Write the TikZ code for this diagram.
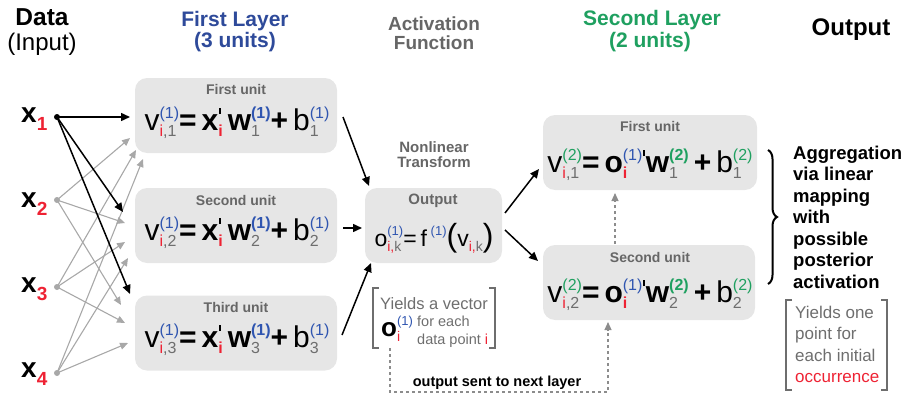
\documentclass[tikz,border=0pt]{standalone}
\usepackage{fontspec}
\setmainfont{Liberation Sans}
\usetikzlibrary{arrows.meta,decorations.pathreplacing}
\definecolor{hblue}{HTML}{2E4A9A}
\definecolor{sblue}{HTML}{2F55B0}
\definecolor{hgreen}{HTML}{1FA060}
\definecolor{xred}{HTML}{EE2233}
\definecolor{tgray}{HTML}{666666}
\definecolor{sgray}{HTML}{6E6E6E}
\definecolor{boxg}{HTML}{E6E6E6}
\definecolor{agray}{HTML}{A8A8A8}
\definecolor{dgray}{HTML}{8C8C8C}
\newcommand\ssz{\fontsize{16}{16}\selectfont}
\newcommand\SupSub[2]{%
 \setbox0=\hbox{\ssz{#1}}\setbox2=\hbox{\ssz{#2}}%
 \ifdim\wd0>\wd2 \dimen0=\wd0 \else \dimen0=\wd2 \fi
 \hbox to \dimen0{\rlap{\raise 12pt\box0}\lower 6pt\box2\hss}}
\newcommand\SmSupSub[2]{%
 \setbox0=\hbox{\fontsize{13}{13}\selectfont{#1}}\setbox2=\hbox{\fontsize{14}{14}\selectfont{#2}}%
 \ifdim\wd0>\wd2 \dimen0=\wd0 \else \dimen0=\wd2 \fi
 \hbox to \dimen0{\rlap{\raise 11pt\box0}\lower 5pt\box2\hss}}
\newcommand\Prm{\kern1pt\rule{1.4pt}{6.5pt}\kern1pt}
\newcommand\eqA[1]{v\SupSub{\color{sblue}(1)}{\color{xred}i\color{sgray},#1}\textbf{=\,x}\SupSub{\raisebox{4pt}{\Prm}}{\color{xred}\textbf{i}}\,\textbf{w}\SupSub{\color{sblue}\textbf{(1)}}{\color{sgray}#1}\textbf{+}\,b\SupSub{\color{sblue}(1)}{\color{sgray}#1}}
\newcommand\eqB[1]{v\SupSub{\color{hgreen}(2)}{\color{xred}i\color{sgray},#1}\textbf{=\,o}\SupSub{{\color{sblue}(1)}\raisebox{4pt}{\Prm}}{\color{xred}\textbf{i}}\textbf{w}\SupSub{\color{hgreen}\textbf{(2)}}{\color{sgray}#1}\,\textbf{+}\,b\SupSub{\color{hgreen}(2)}{\color{sgray}#1}}
\newcommand\xlab[1]{\textbf{x}\lower 8pt\hbox{\fontsize{19}{19}\selectfont\bfseries\color{xred}#1}}
\tikzset{
 ubox/.style={rounded corners=12pt, fill=boxg, draw=none, minimum width=202pt, minimum height=75pt, inner sep=0pt},
 utitle/.style={font=\fontsize{14}{14}\selectfont\bfseries, text=tgray, inner sep=0pt},
 eqn/.style={font=\fontsize{30}{32}\selectfont, anchor=base, inner sep=0pt},
 hdr/.style={font=\fontsize{21}{22}\selectfont\bfseries, inner sep=0pt},
 blk/.style={line width=1.5pt, -{Triangle[length=9pt,width=8pt]}},
 gry/.style={agray, line width=1.1pt, -{Triangle[length=8pt,width=7pt]}},
 note/.style={font=\fontsize{17}{18}\selectfont, text=sgray, inner sep=0pt, anchor=base west},
 brk/.style={line width=1.2pt, draw=sgray},
 agg/.style={font=\fontsize{18.5}{21.5}\selectfont\bfseries, inner sep=0pt, anchor=base west},
}
\begin{document}
\begin{tikzpicture}[x=1pt,y=-1pt]
\useasboundingbox (0,0) rectangle (907,396);
% headers
\node[hdr, font=\fontsize{24.5}{25}\selectfont\bfseries] (hdata) at (42,17) {Data};
\node[inner sep=0pt, font=\fontsize{24}{24}\selectfont] (hinput) at (42,44) {(Input)};
\node[hdr, text=hblue] (hfl) at (235,21) {First Layer};
\node[hdr, text=hblue] (hfl2) at (235,42) {(3 units)};
\node[hdr, text=tgray, font=\fontsize{19}{20}\selectfont\bfseries] (hact) at (434,24) {Activation};
\node[hdr, text=tgray, font=\fontsize{19}{20}\selectfont\bfseries] (hact2) at (434,43) {Function};
\node[hdr, text=hgreen] (hsl) at (652,20) {Second Layer};
\node[hdr, text=hgreen] (hsl2) at (650,42) {(2 units)};
\node[hdr, font=\fontsize{24}{24}\selectfont\bfseries] (hout) at (851,30) {Output};
% inputs
\foreach \i/\y/\b in {1/117/122, 2/200/207, 3/287/292, 4/373/377} {
  \node[inner sep=0pt, anchor=base west, font=\fontsize{28}{28}\selectfont] (xl\i) at (21,\b) {\xlab{\i}};
  \coordinate (in\i) at (57,\y);
}
% first layer boxes
\node[ubox] (u1) at (236,115.5) {};
\node[ubox] (u2) at (236,225.5) {};
\node[ubox] (u3) at (236,333) {};
\node[utitle] (t1) at (236,89) {First unit};
\node[utitle] (t2) at (236,200) {Second unit};
\node[utitle] (t3) at (236,307) {Third unit};
\node[eqn] (e1) at (237,130) {\eqA{1}};
\node[eqn] (e2) at (237,240) {\eqA{2}};
\node[eqn] (e3) at (237,347) {\eqA{3}};
% arrow end coordinates
\coordinate (a11) at (130,117); \coordinate (a12) at (123,212); \coordinate (a13) at (130,294);
\coordinate (a21) at (130,138); \coordinate (a22) at (125,223); \coordinate (a23) at (121,305);
\coordinate (a31) at (136,150); \coordinate (a32) at (125,242); \coordinate (a33) at (125,323);
\coordinate (a41) at (143,159); \coordinate (a42) at (128,258); \coordinate (a43) at (128,343);
\foreach \s in {2,3,4} {\foreach \t in {1,2,3} {\draw[gry] (in\s) -- (a\s\t);}}
\foreach \s in {2,3,4} {\fill[agray] (in\s) circle (3pt);}
\foreach \t in {1,2,3} {\draw[blk] (in1) -- (a1\t);}
\fill (in1) circle (3pt);
% activation
\node[utitle, font=\fontsize{15}{15}\selectfont\bfseries] (nl1) at (434,147) {Nonlinear};
\node[utitle, font=\fontsize{15}{15}\selectfont\bfseries] (nl2) at (434,162) {Transform};
\node[ubox, minimum width=137pt] (act) at (433.5,225.5) {};
\node[utitle, font=\fontsize{15}{15}\selectfont\bfseries] (tact) at (433,201) {Output};
\node[eqn, font=\fontsize{23}{26}\selectfont] (eact) at (434,246) {o\SmSupSub{\color{sblue}(1)}{\color{xred}i,\color{sgray}k}=\,f\,\SmSupSub{\color{sblue}(1)}{}{\fontsize{32}{32}\selectfont(}v\SmSupSub{}{\color{xred}i,\color{sgray}k}{\fontsize{32}{32}\selectfont)}};
\coordinate (u1o) at (343,117); \coordinate (ai1) at (369,186);
\coordinate (u2o) at (343,228); \coordinate (ai2) at (362,228);
\coordinate (u3o) at (342,335); \coordinate (ai3) at (371,263);
\draw[blk] (u1o) -- (ai1);
\draw[blk] (u2o) -- (ai2);
\draw[blk] (u3o) -- (ai3);
% note under activation
\draw[brk] (379,288) -- (373,288) -- (373,348) -- (379,348);
\draw[brk] (489,288) -- (495,288) -- (495,348) -- (489,348);
\node[note, font=\fontsize{16.5}{18}\selectfont] (n1) at (380,309) {Yields a vector};
\node[inner sep=0pt, anchor=base west, font=\fontsize{26}{26}\selectfont] (n2) at (381,336) {\textbf{o}\SmSupSub{\color{sblue}(1)}{\color{xred}i}};
\node[note, font=\fontsize{14.5}{16}\selectfont] (n3) at (417,326) {for each};
\node[note, font=\fontsize{14.5}{16}\selectfont] (n4) at (417,344) {data point \textcolor{xred}{i}};
% second layer
\node[ubox, minimum width=214pt] (s1) at (650,152.5) {};
\node[ubox, minimum width=212pt] (s2) at (649,282.5) {};
\node[utitle] (ts1) at (650,126) {First unit};
\node[utitle] (ts2) at (650,257) {Second unit};
\node[eqn] (es1) at (650,172) {\eqB{1}};
\node[eqn] (es2) at (650,302) {\eqB{2}};
\coordinate (ao1) at (505,213); \coordinate (si1) at (539,169);
\coordinate (ao2) at (505,230); \coordinate (si2) at (538,261);
\draw[blk] (ao1) -- (si1);
\draw[blk] (ao2) -- (si2);
% dashed
\coordinate (s2t) at (615,244); \coordinate (s1b) at (615,193);
\draw[dgray, dashed, line width=1.1pt, -{Triangle[length=8pt,width=7pt]}] (s2t) -- (s1b);
\coordinate (d0) at (390,348); \coordinate (d1) at (390,392); \coordinate (d2) at (608,392); \coordinate (s2b) at (608,322);
\draw[dgray, dashed, line width=1.1pt, -{Triangle[length=8pt,width=7pt]}] (d0) -- (d1) -- (d2) -- (s2b);
\node[inner sep=0pt, font=\fontsize{14.5}{14.5}\selectfont\bfseries] (sent) at (497,383) {output sent to next layer};
% output
\coordinate (br1) at (768,150); \coordinate (br2) at (768,284);
\draw[line width=2pt, decorate, decoration={brace, amplitude=9pt}] (br1) -- (br2);
\node[agg] (g1) at (793,159) {Aggregation};
\node[agg] (g2) at (793,180.5) {via linear};
\node[agg] (g3) at (793,202) {mapping};
\node[agg] (g4) at (793,223.5) {with};
\node[agg] (g5) at (793,245) {possible};
\node[agg] (g6) at (793,266.5) {posterior};
\node[agg] (g7) at (793,288) {activation};
\draw[brk] (792,300) -- (786,300) -- (786,390) -- (792,390);
\draw[brk] (881,300) -- (887,300) -- (887,390) -- (881,390);
\node[note] (o1) at (795,318) {Yields one};
\node[note] (o2) at (795,339.5) {point for};
\node[note] (o3) at (795,361) {each initial};
\node[note, text=xred] (o4) at (795,382) {occurrence};
\end{tikzpicture}
\end{document}
